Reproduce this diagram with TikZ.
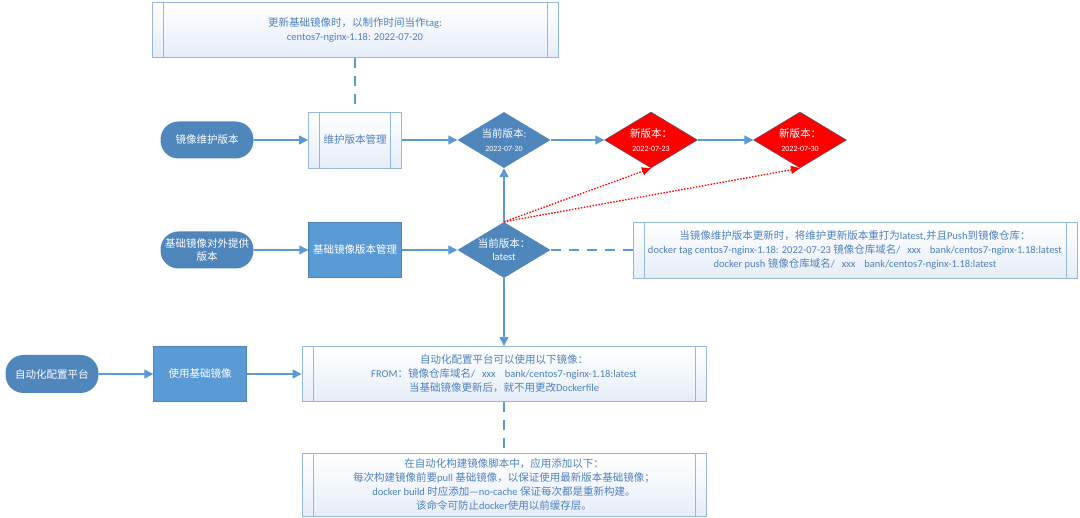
\documentclass[tikz,border=0pt]{standalone}
\usepackage{fontspec}
\setmainfont{Carlito}
\newfontfamily\cjk{Noto Sans CJK SC}
\newfontfamily\lat{Carlito}
% switch to the CJK font for Chinese characters
\XeTeXinterchartokenstate=1
\newXeTeXintercharclass\cjkclass
\newcount\chcode
\chcode="3000
\loop \XeTeXcharclass\chcode=\cjkclass \advance\chcode by 1 \ifnum\chcode<"3040 \repeat
\chcode="4E00
\loop \XeTeXcharclass\chcode=\cjkclass \advance\chcode by 1 \ifnum\chcode<"A000 \repeat
\chcode="FF00
\loop \XeTeXcharclass\chcode=\cjkclass \advance\chcode by 1 \ifnum\chcode<"FFF0 \repeat
\XeTeXcharclass"2014=0
\XeTeXinterchartoks 0 \cjkclass = {\cjk}
\XeTeXinterchartoks 4095 \cjkclass = {\cjk}
\XeTeXinterchartoks \cjkclass 0 = {\lat}
\XeTeXinterchartoks 4095 0 = {\lat}
\usepackage{tikz}
\usetikzlibrary{arrows.meta}
\usetikzlibrary{shapes.geometric}
\definecolor{termblue}{RGB}{79,134,188}
\definecolor{boxblue}{RGB}{91,155,213}
\definecolor{edgeblue}{RGB}{148,184,224}
\definecolor{noteblue}{RGB}{79,129,189}
\definecolor{paleblue}{RGB}{230,237,248}
\tikzset{
    terminal/.style={fill=termblue, rounded corners=18pt, minimum width=93pt, minimum height=37pt, inner sep=0pt, text=white, align=center, font=\fontsize{10.5}{13}\selectfont},
    solidbox/.style={fill=boxblue, draw=boxblue!85!black, line width=0.4pt, minimum width=93pt, minimum height=55pt, inner sep=0pt, text=white, align=center, font=\fontsize{10.5}{13}\selectfont},
    subbox/.style={draw=edgeblue, line width=0.9pt, top color=white, bottom color=paleblue, inner sep=0pt, text=noteblue, align=center, font=\fontsize{10.5}{14}\selectfont,
        path picture={\draw[edgeblue, line width=0.9pt] ([xshift=11pt]path picture bounding box.north west) -- ([xshift=11pt]path picture bounding box.south west) ([xshift=-11pt]path picture bounding box.north east) -- ([xshift=-11pt]path picture bounding box.south east);}},
    decision/.style={shape=diamond, aspect=1.66, fill=termblue, minimum width=93pt, minimum height=56pt, inner sep=0pt, text=white, align=center, font=\fontsize{10.5}{13}\selectfont},
    newver/.style={decision, fill=red, draw=termblue!70!black, line width=0.4pt},
    link/.style={draw=boxblue, line width=1.3pt, -{Triangle[length=9pt,width=9pt]}},
    hint/.style={draw=boxblue, line width=1.3pt, dash pattern=on 10pt off 8pt},
    jump/.style={draw=red, line width=1.3pt, dash pattern=on 1.5pt off 1.5pt, -{Triangle[length=9pt,width=8pt]}}
}
\newcommand{\datefont}{\fontsize{8}{10}\selectfont}
\begin{document}
\begin{tikzpicture}[x=1pt,y=-1pt]
\useasboundingbox (0,0) rectangle (1080,518);
% row 1: maintained version
\node[subbox, minimum width=406pt, minimum height=55pt] (tagnote) at (355,30) {更新基础镜像时，以制作时间当作tag:\\centos7-nginx-1.18: 2022-07-20};
\node[terminal] (keep) at (207,140) {镜像维护版本};
\node[subbox, minimum width=93pt, minimum height=56pt] (maintain) at (355,140) {维护版本管理};
\node[decision] (cur) at (504,140) {当前版本:\\[1pt]{\datefont 2022-07-20}};
\foreach \p/\x/\d in {new1/651/2022-07-23, new2/800/2022-07-30}{
    \node[newver] (\p) at (\x,140) {新版本：\\[1pt]{\datefont \d}};
}
% row 2: published version
\node[terminal] (pub) at (207,250) {基础镜像对外提供\\版本};
\node[solidbox] (pubmgr) at (355,250) {基础镜像版本管理};
\node[decision] (latest) at (504,250) {当前版本：\\latest};
\node[subbox, minimum width=444pt, minimum height=56pt] (pushnote) at (855,250) {当镜像维护版本更新时，将维护更新版本重打为latest,并且Push到镜像仓库：\\docker tag centos7-nginx-1.18: 2022-07-23 镜像仓库域名/\hspace{7pt}xxx\hspace{9pt}bank/centos7-nginx-1.18:latest\\docker push 镜像仓库域名/\hspace{7pt}xxx\hspace{9pt}bank/centos7-nginx-1.18:latest};
% row 3: automation platform
\node[terminal, minimum height=38pt] (auto) at (52,374) {自动化配置平台};
\node[solidbox] (usebase) at (200,374) {使用基础镜像};
\node[subbox, minimum width=404pt, minimum height=55pt] (fromnote) at (504,374) {自动化配置平台可以使用以下镜像：\\FROM：镜像仓库域名/\hspace{7pt}xxx\hspace{9pt}bank/centos7-nginx-1.18:latest\\当基础镜像更新后，就不用更改Dockerfile};
\node[subbox, minimum width=404pt, minimum height=63pt] (buildnote) at (504,485) {在自动化构建镜像脚本中，应用添加以下：\\每次构建镜像前要pull 基础镜像，以保证使用最新版本基础镜像；\\docker build 时应添加—no-cache 保证每次都是重新构建。\\该命令可防止docker使用以前缓存层。};
% connectors
\draw[hint] (tagnote) -- (maintain);
\draw[link] (keep) -- (maintain);
\draw[link] (maintain) -- (cur);
\draw[link] (cur) -- (new1);
\draw[link] (new1) -- (new2);
\draw[link] (pub) -- (pubmgr);
\draw[link] (pubmgr) -- (latest);
\draw[link] (latest) -- (cur);
\draw[jump] (latest.north) -- (new1.south);
\draw[jump] (latest.north) -- (new2.south);
\draw[hint] (latest) -- (pushnote);
\draw[link] (latest) -- (fromnote);
\draw[link] (auto) -- (usebase);
\draw[link] (usebase) -- (fromnote);
\draw[hint] (fromnote) -- (buildnote);
\end{tikzpicture}
\end{document}
